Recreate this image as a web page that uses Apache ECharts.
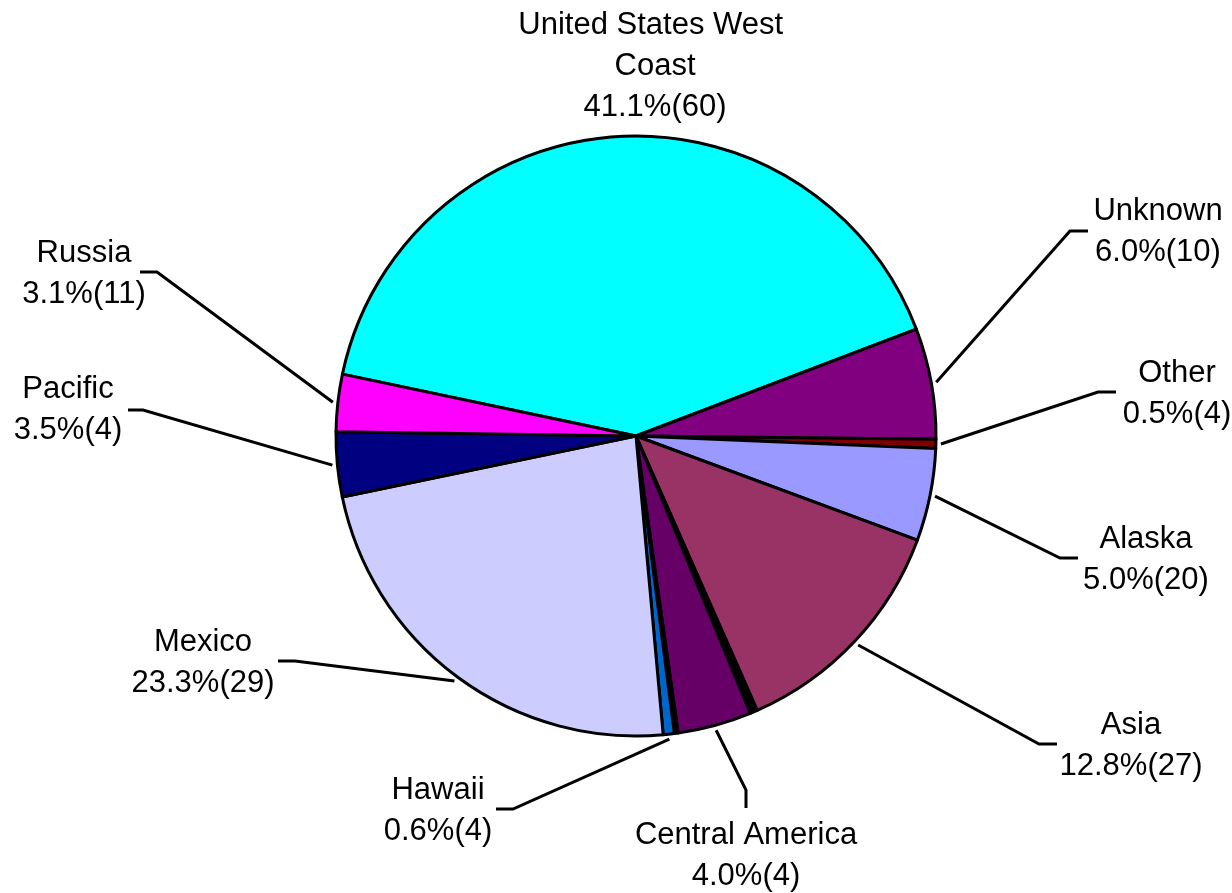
<!DOCTYPE html>
<html>
<head>
<meta charset="utf-8">
<script src="https://cdn.jsdelivr.net/npm/echarts@6/dist/echarts.min.js"></script>
<style>
html,body{margin:0;padding:0;background:#ffffff;}
#c{width:1232px;height:893px;}
</style>
</head>
<body>
<div id="c"></div>
<script>
// ---- data ----
const categories = ['United States West Coast', 'Unknown', 'Other', 'Alaska', 'Asia',
                    'Central America', 'Hawaii', 'Mexico', 'Pacific', 'Russia'];
const percents = [41.1, 6.0, 0.5, 5.0, 12.8, 4.0, 0.6, 23.3, 3.5, 3.1];
const counts = [60, 10, 4, 20, 27, 4, 4, 29, 4, 11];
// thin unlabeled black slices seen in the picture (after the named slice)
const unlabeledAfter = ['Asia', 'Central America'];
const unlabeledValues = [0.4, 0.2];

// ---- styles / layout ----
const colors = {
  'United States West Coast': '#00FFFF', 'Unknown': '#800080', 'Other': '#800000',
  'Alaska': '#9999FF', 'Asia': '#993366', 'Central America': '#660066',
  'Hawaii': '#0066CC', 'Mexico': '#CCCCFF', 'Pacific': '#000080', 'Russia': '#FF00FF'
};
const labelPlace = {
  'United States West Coast': {text: [655, 66]},
  'Unknown': {text: [1158, 232], elbow: [1070, 231], end: [1088, 231]},
  'Other': {text: [1177, 394], elbow: [1098, 392], end: [1116, 392]},
  'Alaska': {text: [1146, 560], elbow: [1060, 558], end: [1078, 558]},
  'Asia': {text: [1131, 746], elbow: [1039, 744], end: [1057, 744]},
  'Central America': {text: [746, 856], elbow: [746, 790], end: [746, 808]},
  'Hawaii': {text: [438, 811], elbow: [513, 809], end: [496, 809]},
  'Mexico': {text: [203, 663], elbow: [295, 661], end: [278, 661]},
  'Pacific': {text: [68, 410], elbow: [143, 410], end: [128, 410]},
  'Russia': {text: [84, 274], elbow: [157, 272], end: [140, 272]}
};
const CENTER = [636, 436];
const RADIUS = 300;

// ---- build series data ----
const seriesData = [];
categories.forEach(function (name, i) {
  const item = {
    name: name,
    value: percents[i],
    count: counts[i],
    itemStyle: {color: colors[name]}
  };
  if (name === 'United States West Coast') {
    item.label = {width: 300, overflow: 'break'};
    item.labelLine = {show: false};
  }
  seriesData.push(item);
  const k = unlabeledAfter.indexOf(name);
  if (k >= 0) {
    seriesData.push({
      name: '',
      value: unlabeledValues[k],
      itemStyle: {color: '#000000'},
      label: {show: false},
      labelLine: {show: false},
      unlabeled: true
    });
  }
});

const chart = echarts.init(document.getElementById('c'), null, {renderer: 'canvas'});
chart.setOption({
  backgroundColor: '#ffffff',
  animation: false,
  series: [{
    type: 'pie',
    center: CENTER,
    radius: RADIUS,
    startAngle: 168.1,
    clockwise: true,
    avoidLabelOverlap: false,
    data: seriesData,
    itemStyle: {borderColor: '#000000', borderWidth: 3},
    emphasis: {disabled: true},
    label: {
      show: true,
      position: 'outside',
      color: '#000000',
      fontFamily: '"Liberation Sans", Arial, sans-serif',
      fontSize: 31,
      lineHeight: 41,
      align: 'center',
      formatter: function (p) {
        return p.name + '\n' + p.value.toFixed(1) + '%(' + p.data.count + ')';
      }
    },
    labelLine: {
      show: true,
      length: 20,
      length2: 20,
      smooth: false,
      lineStyle: {color: '#000000', width: 3}
    },
    labelLayout: function (params) {
      const item = seriesData[params.dataIndex];
      if (!item || item.unlabeled) return {};
      const place = labelPlace[item.name];
      if (!place) return {};
      const res = {x: place.text[0], y: place.text[1], align: 'center', verticalAlign: 'middle'};
      if (place.elbow && params.labelLinePoints) {
        const s = params.labelLinePoints[0];
        const dx = s[0] - CENTER[0], dy = s[1] - CENTER[1];
        const len = Math.sqrt(dx * dx + dy * dy) || 1;
        const start = [s[0] + dx / len * 5, s[1] + dy / len * 5];
        res.labelLinePoints = [start, place.elbow.slice(), place.end.slice()];
      }
      return res;
    }
  }]
});
</script>
</body>
</html>
